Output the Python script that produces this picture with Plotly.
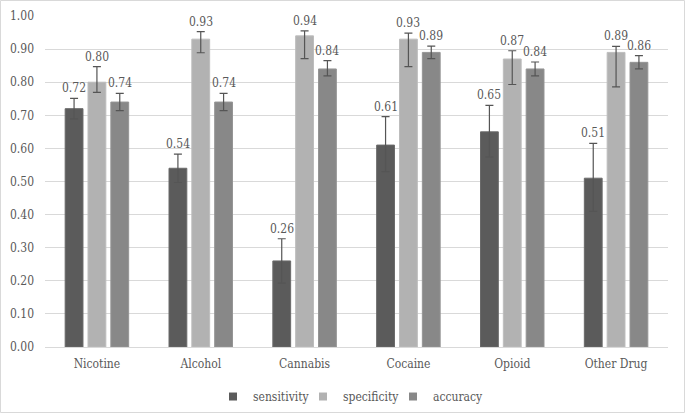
import plotly.graph_objects as go

categories = ["Nicotine", "Alcohol", "Cannabis", "Cocaine", "Opioid", "Other Drug"]
series_names = ["sensitivity", "specificity", "accuracy"]

sensitivity = [0.72, 0.54, 0.26, 0.61, 0.65, 0.51]
specificity = [0.80, 0.93, 0.94, 0.93, 0.87, 0.89]
accuracy = [0.74, 0.74, 0.84, 0.89, 0.84, 0.86]

sens_err_plus = [0.031, 0.043, 0.067, 0.086, 0.080, 0.105]
sens_err_minus = [0.031, 0.043, 0.067, 0.080, 0.076, 0.100]
spec_err_plus = [0.047, 0.023, 0.015, 0.018, 0.025, 0.018]
spec_err_minus = [0.031, 0.041, 0.069, 0.083, 0.077, 0.104]
acc_err_plus = [0.026, 0.026, 0.025, 0.019, 0.021, 0.020]
acc_err_minus = [0.026, 0.026, 0.021, 0.019, 0.021, 0.020]

values = [sensitivity, specificity, accuracy]
errs_plus = [sens_err_plus, spec_err_plus, acc_err_plus]
errs_minus = [sens_err_minus, spec_err_minus, acc_err_minus]
colors = ["#5b5b5b", "#b2b2b2", "#888888"]
line_colors = ["#6a6a6a", "#bdbdbd", "#959595"]

FONT = "DejaVu Serif Condensed, DejaVu Serif"
TEXT = "#595959"
FS = 12

fig = go.Figure()
for name, vals, ep, em, c, lc in zip(series_names, values, errs_plus, errs_minus, colors, line_colors):
    fig.add_trace(go.Bar(
        name=name, x=categories, y=vals, showlegend=False,
        marker=dict(color=c, line=dict(color=lc, width=1)),
        error_y=dict(type="data", symmetric=False, array=ep, arrayminus=em,
                     color="#555555", thickness=1.2, width=4),
    ))
# legend entries (small square swatches)
for name, c in zip(series_names, colors):
    fig.add_trace(go.Scatter(
        name=name, x=[None], y=[None], mode="markers",
        marker=dict(symbol="square", size=8, color=c), showlegend=True,
    ))

bargap = 0.34
slot = (1 - bargap) / 3
annotations = []
for j, (vals, ep) in enumerate(zip(values, errs_plus)):
    for i, (v, e) in enumerate(zip(vals, ep)):
        annotations.append(dict(
            x=i + (j - 1) * slot, y=v + e, xref="x", yref="y",
            text=f"{v:.2f}", showarrow=False, yanchor="bottom", yshift=1,
            font=dict(family=FONT, size=FS, color=TEXT),
        ))

L, R, T, B = 45, 17, 16, 66
W, H = 685, 413
pw, ph = W - L - R, H - T - B

fig.update_layout(
    width=W, height=H,
    margin=dict(l=L, r=R, t=T, b=B, autoexpand=False),
    barmode="group", bargap=bargap, bargroupgap=0.22,
    plot_bgcolor="white", paper_bgcolor="white",
    font=dict(family=FONT, size=FS, color=TEXT),
    showlegend=True,
    legend=dict(orientation="h", xref="container", yref="container",
                x=0.508, xanchor="center", y=0.075, yanchor="top",
                font=dict(family=FONT, size=FS, color=TEXT), itemwidth=30,
                entrywidth=45, entrywidthmode="pixels",
                traceorder="normal", tracegroupgap=0),
    annotations=annotations,
    shapes=[dict(type="rect", xref="paper", yref="paper",
                 x0=(0.5 - L) / pw, x1=(W - 0.5 - L) / pw,
                 y0=-(B - 0.5) / ph, y1=1 + (T - 0.5) / ph,
                 line=dict(color="#d9d9d9", width=1))],
)
fig.update_yaxes(range=[0, 1.0], dtick=0.1, tickformat=".2f", gridcolor="#d9d9d9",
                 showline=False, zeroline=True, zerolinecolor="#d9d9d9", zerolinewidth=1,
                 ticks="", ticklabelstandoff=10, automargin=False,
                 tickfont=dict(family=FONT, size=FS, color=TEXT))
fig.update_xaxes(showline=True, linecolor="#d9d9d9", ticks="", automargin=False,
                 ticklabelstandoff=6, tickfont=dict(family=FONT, size=FS, color=TEXT))

fig.write_html("out.html", config={"displayModeBar": False},
               post_script="document.body.style.margin='0';document.body.style.overflow='hidden';")
